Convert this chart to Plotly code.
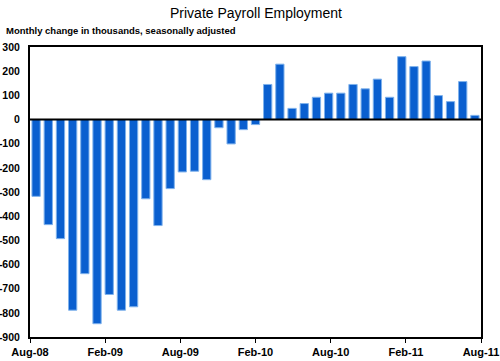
import plotly.graph_objects as go

months = ["Aug-08","Sep-08","Oct-08","Nov-08","Dec-08","Jan-09","Feb-09","Mar-09","Apr-09","May-09",
          "Jun-09","Jul-09","Aug-09","Sep-09","Oct-09","Nov-09","Dec-09","Jan-10","Feb-10","Mar-10",
          "Apr-10","May-10","Jun-10","Jul-10","Aug-10","Sep-10","Oct-10","Nov-10","Dec-10","Jan-11",
          "Feb-11","Mar-11","Apr-11","May-11","Jun-11","Jul-11","Aug-11"]
values = [-318, -435, -493, -789, -638, -845, -724, -789, -775, -328,
          -439, -286, -217, -214, -249, -34, -101, -42, -21, 145,
          229, 46, 66, 92, 109, 109, 145, 127, 167, 92,
          260, 219, 242, 99, 74, 157, 17]
tick_labels = ["Aug-08", "Feb-09", "Aug-09", "Feb-10", "Aug-10", "Feb-11", "Aug-11"]
y_ticks = [300, 200, 100, 0, -100, -200, -300, -400, -500, -600, -700, -800, -900]
y_tick_labels = ["300", "200", "100", "0", "-100", "-200", "-300", "-400", "-500",
                 "-600", "-700", "-800", "-900"]

n = len(values)
x_idx = list(range(n))
step = n / (len(tick_labels) - 1)
tick_pos = [-0.5 + k * step for k in range(len(tick_labels))]

fig = go.Figure(go.Bar(
    x=x_idx, y=values, width=0.68,
    marker=dict(color="#0A5FCF", line=dict(color="#7FB2EC", width=1)),
))

fig.update_layout(
    width=500, height=361,
    margin=dict(l=30, r=19, t=47, b=24),
    paper_bgcolor="white", plot_bgcolor="white",
    showlegend=False,
    font=dict(family="Liberation Sans, Arial", size=11, color="black"),
    annotations=[
        dict(text="Private Payroll Employment", xref="paper", yref="paper",
             x=0.5, y=(337 - 13) / 290, xanchor="center", yanchor="middle",
             showarrow=False, font=dict(size=14, color="black")),
        dict(text="<b>Monthly change in thousands, seasonally adjusted</b>",
             xref="paper", yref="paper", x=-0.058, y=(337 - 31) / 290,
             xanchor="left", yanchor="middle", showarrow=False,
             font=dict(size=9.5, color="black")),
    ],
    shapes=[dict(type="line", xref="paper", yref="y", x0=0, x1=1, y0=0, y1=0,
                 line=dict(color="black", width=2), layer="above")],
)
fig.update_xaxes(range=[-0.5, n - 0.5], tickvals=tick_pos, ticktext=tick_labels,
                 showgrid=False, zeroline=False, showline=True, linecolor="black",
                 linewidth=2, mirror=True, ticks="outside", ticklen=4, tickcolor="black",
                 tickfont=dict(size=11, weight="bold"), automargin=False)
fig.update_yaxes(range=[-900, 300], tickvals=y_ticks, ticktext=y_tick_labels,
                 showgrid=False, zeroline=False, showline=True, linecolor="black",
                 linewidth=2, mirror=True, ticks="", ticklabelstandoff=6,
                 tickfont=dict(size=10.5, weight="bold"), automargin=False)

fig.write_html("out.html", config={"displayModeBar": False},
               post_script="document.body.style.margin='0';document.body.style.overflow='hidden';")
